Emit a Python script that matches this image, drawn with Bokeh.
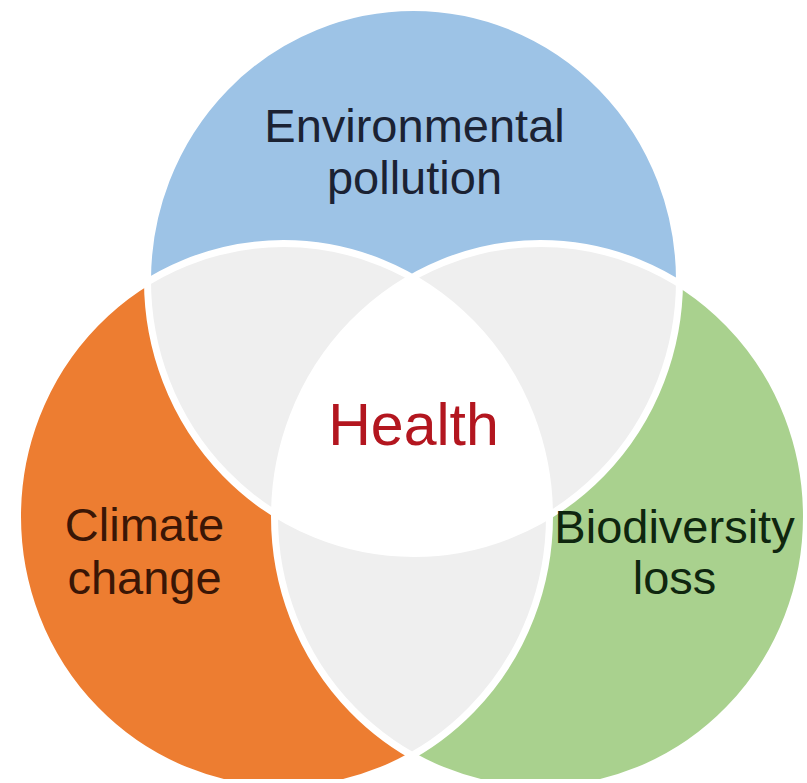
import numpy as np
from bokeh.plotting import figure
from bokeh.models import Range1d
from bokeh.core.properties import value
from bokeh.embed import file_html
from bokeh.resources import INLINE

# ---- data ----
set_names = ["Environmental pollution", "Climate change", "Biodiversity loss"]
set_label_lines = [["Environmental", "pollution"], ["Climate", "change"], ["Biodiversity", "loss"]]
center_label = "Health"
set_colors = ["#9dc3e6", "#ed7d31", "#a9d18e"]
set_text_colors = ["#1b2233", "#3a1606", "#0f260f"]
overlap_color = "#efefef"
center_color = "#ffffff"
center_text_color = "#b3161f"

# ---- layout (image pixel space) ----
cx = [413, 283, 540]
cy = [280, 516, 516]
rx = 266
ry = 273
label_x = [414, 144, 674]
label_y = [[125, 177], [524, 577], [526, 577]]
center_xy = (413, 424)

W, H = 803, 779
p = figure(width=W, height=H, output_backend="svg", toolbar_location=None,
           x_range=Range1d(0, W), y_range=Range1d(H, 0),
           min_border=0, border_fill_color="white", background_fill_color="white")
p.axis.visible = False
p.grid.visible = False
p.outline_line_color = None

# circles
p.ellipse(x=cx, y=cy, width=2 * rx, height=2 * ry, fill_color=set_colors, line_color=None)

t = np.linspace(0, 2 * np.pi, 1440, endpoint=False)
bx = [c + rx * np.cos(t) for c in cx]
by = [c + ry * np.sin(t) for c in cy]


def inside(k, x, y):
    return ((x - cx[k]) / rx) ** 2 + ((y - cy[k]) / ry) ** 2 <= 1.0 + 1e-9


def region(ids):
    xs, ys = [], []
    for i in ids:
        m = np.ones_like(t, dtype=bool)
        for j in ids:
            if j != i:
                m &= inside(j, bx[i], by[i])
        xs.append(bx[i][m])
        ys.append(by[i][m])
    xs = np.concatenate(xs)
    ys = np.concatenate(ys)
    mx, my = xs.mean(), ys.mean()
    order = np.argsort(np.arctan2(ys - my, xs - mx))
    return list(xs[order]), list(ys[order])


# pairwise overlaps (light grey) and triple overlap (white)
pairs = [(0, 1), (0, 2), (1, 2)]
lx, ly = [], []
for a, b in pairs:
    xx, yy = region([a, b])
    lx.append(xx)
    ly.append(yy)
p.patches(lx, ly, fill_color=overlap_color, line_color=None)

tx, ty = region([0, 1, 2])
p.patch(tx, ty, fill_color=center_color, line_color=None)

# white outlines separating regions
p.ellipse(x=cx, y=cy, width=2 * rx, height=2 * ry, fill_color=None,
          line_color="white", line_width=7)

# labels
for k in range(3):
    for line, yy in zip(set_label_lines[k], label_y[k]):
        p.text(x=[label_x[k]], y=[yy], text=[line], text_align="center",
               text_baseline="alphabetic", text_font=value("Liberation Sans"),
               text_font_size="47px", text_color=set_text_colors[k])

p.text(x=[center_xy[0]], y=[center_xy[1]], text=[center_label], text_align="center",
       text_baseline="alphabetic", text_font=value("Liberation Sans"),
       text_font_size="59px", text_color=center_text_color)

open("out.html", "w").write(file_html(p, INLINE))
